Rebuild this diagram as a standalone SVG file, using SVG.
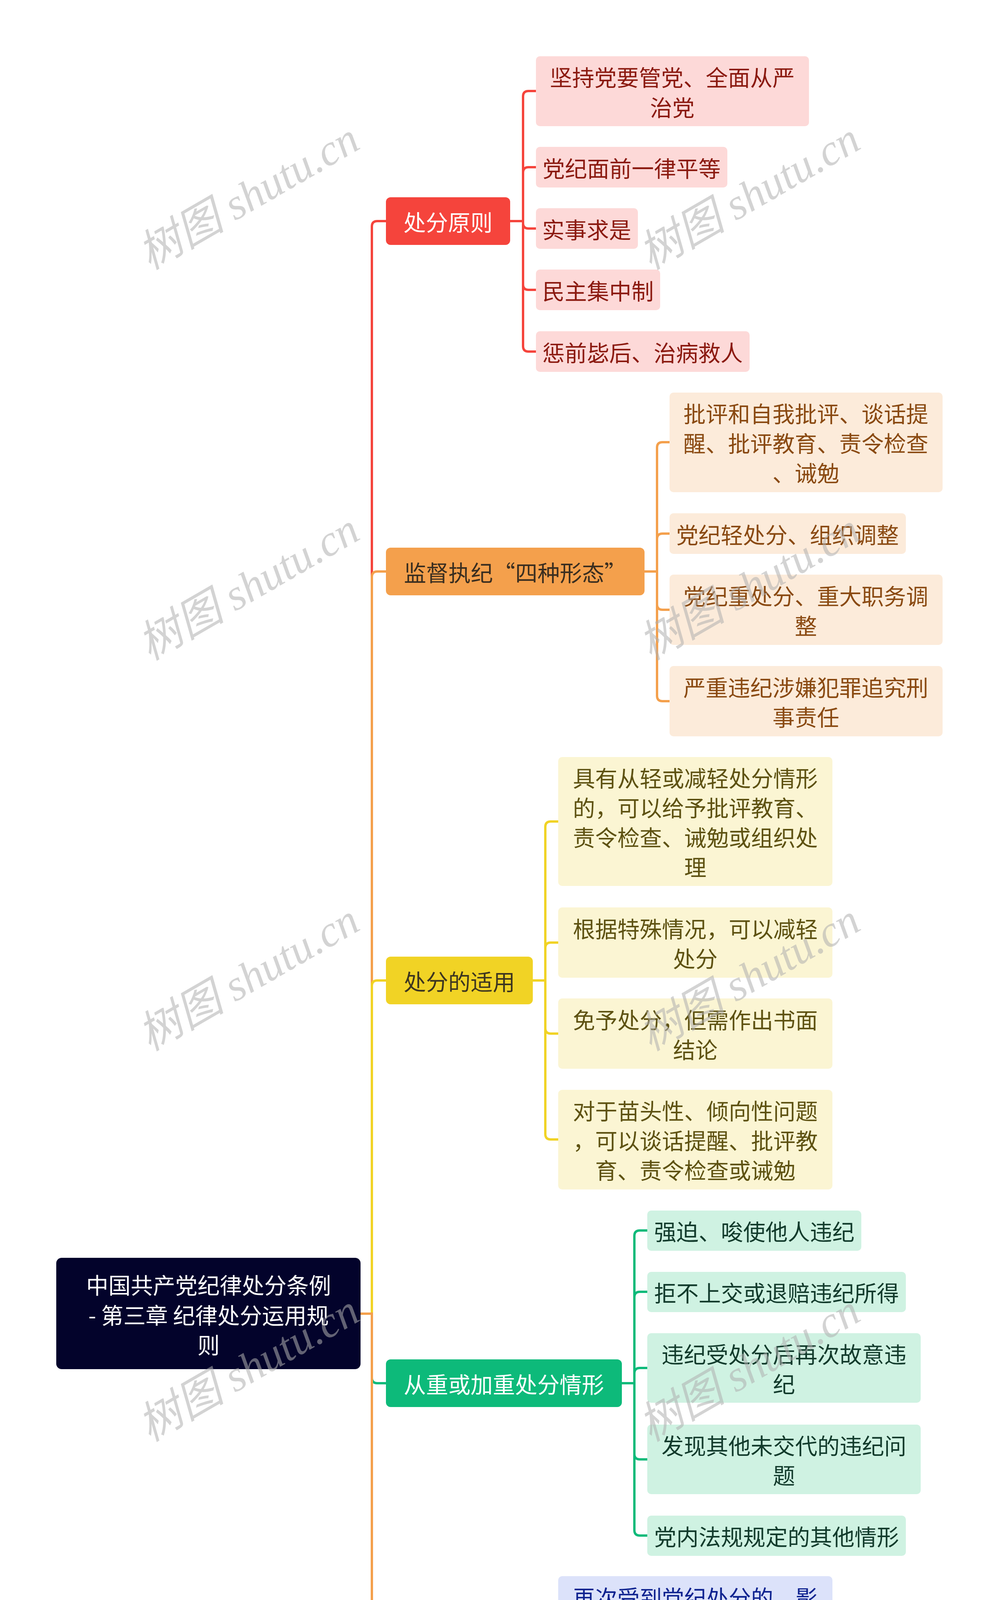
<svg xmlns="http://www.w3.org/2000/svg" width="2560" height="6529" viewBox="0 0 2560 6529">
<style>
text{font-family:"Noto Sans CJK SC","Noto Sans",sans-serif;font-size:57px;text-anchor:middle;dominant-baseline:central}
.c{fill:none;stroke-width:6;stroke-linecap:round}
.wm{font-family:"Liberation Serif","Noto Sans CJK SC",serif;font-style:italic;font-size:112px;fill:#b0b0b0;opacity:0.55;dominant-baseline:alphabetic}
.r1{fill:#F5443C}.r1t{fill:#ffffff}
.o1{fill:#F4A04C}.o1t{fill:#3a2e20}
.y1{fill:#F1D325}.y1t{fill:#3d3620}
.g1{fill:#0DBA7A}.b1{fill:#4A6CF7}.i1{fill:#4E4ABE}
.w{fill:#ffffff}
.rl{fill:#FDD9D8}.rlt{fill:#8B1A10}
.ol{fill:#FCEBDA}.olt{fill:#8A4A12}
.yl{fill:#FBF5D3}.ylt{fill:#5E5212}
.gl{fill:#CFF2E2}.glt{fill:#123B2C}
.bl{fill:#DCE2FA}.blt{fill:#0F2390}
.il{fill:#DCDCF0}.ilt{fill:#25235E}
</style>
<rect width="2560" height="6529" fill="#ffffff"/>
<g id="connectors">
<path class="c" stroke="#F5443C" d="M923 3363 H952 V580 Q952 566 966 566 H988"/>
<path class="c" stroke="#F4A04C" d="M923 3363 H952 V1477 Q952 1463 966 1463 H988"/>
<path class="c" stroke="#F1D325" d="M923 3363 H952 V2524 Q952 2510 966 2510 H988"/>
<path class="c" stroke="#0DBA7A" d="M923 3363 H952 V3527 Q952 3541 966 3541 H988"/>
<path class="c" stroke="#4A6CF7" d="M923 3363 H952 V4149 Q952 4163 966 4163 H988"/>
<path class="c" stroke="#4E4ABE" d="M923 3363 H952 V4771 Q952 4785 966 4785 H988"/>
<path class="c" stroke="#F5443C" d="M923 3363 H952 V5546 Q952 5560 966 5560 H988"/>
<path class="c" stroke="#F4A04C" d="M923 3363 H952 V6146 Q952 6160 966 6160 H988"/>
<g stroke="#F5443C" class="c">
<path class="c" d="M1306 566 H1339 V247 Q1339 233 1353 233 H1372"/>
<path class="c" d="M1306 566 H1339 V442 Q1339 428 1353 428 H1372"/>
<path class="c" d="M1306 566 H1339 V571 Q1339 585 1353 585 H1372"/>
<path class="c" d="M1306 566 H1339 V728 Q1339 742 1353 742 H1372"/>
<path class="c" d="M1306 566 H1339 V886 Q1339 900 1353 900 H1372"/>
</g>
<g stroke="#F4A04C" class="c">
<path class="c" d="M1650 1463 H1682 V1146 Q1682 1132 1696 1132 H1714"/>
<path class="c" d="M1650 1463 H1682 V1380 Q1682 1366 1696 1366 H1714"/>
<path class="c" d="M1650 1463 H1682 V1547 Q1682 1561 1696 1561 H1714"/>
<path class="c" d="M1650 1463 H1682 V1781 Q1682 1795 1696 1795 H1714"/>
</g>
<g stroke="#F1D325" class="c">
<path class="c" d="M1364 2510 H1396 V2117 Q1396 2103 1410 2103 H1429"/>
<path class="c" d="M1364 2510 H1396 V2427 Q1396 2413 1410 2413 H1429"/>
<path class="c" d="M1364 2510 H1396 V2632 Q1396 2646 1410 2646 H1429"/>
<path class="c" d="M1364 2510 H1396 V2903 Q1396 2917 1410 2917 H1429"/>
</g>
<g stroke="#0DBA7A" class="c">
<path class="c" d="M1592 3541 H1624 V3164 Q1624 3150 1638 3150 H1657"/>
<path class="c" d="M1592 3541 H1624 V3321 Q1624 3307 1638 3307 H1657"/>
<path class="c" d="M1592 3541 H1624 V3516 Q1624 3502 1638 3502 H1657"/>
<path class="c" d="M1592 3541 H1624 V3722 Q1624 3736 1638 3736 H1657"/>
<path class="c" d="M1592 3541 H1624 V3917 Q1624 3931 1638 3931 H1657"/>
</g>
<path class="c" stroke="#4A6CF7" d="M1364 4163 H1429"/>
<g stroke="#4E4ABE" class="c">
<path class="c" d="M1306 4785 H1339 V4449 Q1339 4435 1353 4435 H1372"/>
<path class="c" d="M1306 4785 H1339 V4682 Q1339 4668 1353 4668 H1372"/>
<path class="c" d="M1306 4785 H1339 V4888 Q1339 4902 1353 4902 H1372"/>
<path class="c" d="M1306 4785 H1339 V5121 Q1339 5135 1353 5135 H1372"/>
</g>
<g stroke="#F5443C" class="c">
<path class="c" d="M1306 5560 H1339 V5419 Q1339 5405 1353 5405 H1372"/>
<path class="c" d="M1306 5560 H1339 V5701 Q1339 5715 1353 5715 H1372"/>
</g>
<g stroke="#F4A04C" class="c">
<path class="c" d="M1478 6160 H1510 V6038 Q1510 6024 1524 6024 H1543"/>
<path class="c" d="M1478 6160 H1510 V6281 Q1510 6295 1524 6295 H1543"/>
</g>
</g>
<g id="root">
<rect x="144" y="3220" width="779" height="285" rx="14" fill="#03032B"/>
<text class="w" x="534"><tspan x="534" y="3287">中国共产党纪律处分条例</tspan><tspan x="534" y="3364">- 第三章 纪律处分运用规</tspan><tspan x="534" y="3440">则</tspan></text>
</g>
<g id="n1">
<rect class="r1" x="988" y="505" width="318" height="122" rx="12"/>
<text class="r1t" x="1147" y="566">处分原则</text>
</g>
<g id="n1a"><rect class="rl" x="1372" y="144" width="699" height="179" rx="10"/><text class="rlt"><tspan x="1721" y="195">坚持党要管党、全面从严</tspan><tspan x="1721" y="272">治党</tspan></text></g>
<g id="n1b"><rect class="rl" x="1372" y="376" width="490" height="104" rx="10"/><text class="rlt" x="1617" y="428">党纪面前一律平等</text></g>
<g id="n1c"><rect class="rl" x="1372" y="533" width="261" height="104" rx="10"/><text class="rlt" x="1502" y="585">实事求是</text></g>
<g id="n1d"><rect class="rl" x="1372" y="690" width="318" height="104" rx="10"/><text class="rlt" x="1531" y="742">民主集中制</text></g>
<g id="n1e"><rect class="rl" x="1372" y="848" width="547" height="104" rx="10"/><text class="rlt" x="1645" y="900">惩前毖后、治病救人</text></g>
<g id="n2">
<rect class="o1" x="988" y="1402" width="662" height="122" rx="12"/>
<text class="o1t" x="1319" y="1463">监督执纪“四种形态”</text>
</g>
<g id="n2a"><rect class="ol" x="1714" y="1005" width="699" height="255" rx="10"/><text class="olt"><tspan x="2063" y="1056">批评和自我批评、谈话提</tspan><tspan x="2063" y="1132">醒、批评教育、责令检查</tspan><tspan x="2063" y="1208">、诫勉</tspan></text></g>
<g id="n2b"><rect class="ol" x="1714" y="1314" width="605" height="104" rx="10"/><text class="olt" x="2016" y="1366">党纪轻处分、组织调整</text></g>
<g id="n2c"><rect class="ol" x="1714" y="1471" width="699" height="180" rx="10"/><text class="olt"><tspan x="2063" y="1523">党纪重处分、重大职务调</tspan><tspan x="2063" y="1599">整</tspan></text></g>
<g id="n2d"><rect class="ol" x="1714" y="1705" width="699" height="180" rx="10"/><text class="olt"><tspan x="2063" y="1757">严重违纪涉嫌犯罪追究刑</tspan><tspan x="2063" y="1833">事责任</tspan></text></g>
<g id="n3">
<rect class="y1" x="988" y="2449" width="376" height="122" rx="12"/>
<text class="y1t" x="1176" y="2510">处分的适用</text>
</g>
<g id="n3a"><rect class="yl" x="1429" y="1938" width="702" height="330" rx="10"/><text class="ylt"><tspan x="1780" y="1989">具有从轻或减轻处分情形</tspan><tspan x="1780" y="2065">的，可以给予批评教育、</tspan><tspan x="1780" y="2141">责令检查、诫勉或组织处</tspan><tspan x="1780" y="2217">理</tspan></text></g>
<g id="n3b"><rect class="yl" x="1429" y="2323" width="702" height="180" rx="10"/><text class="ylt"><tspan x="1780" y="2375">根据特殊情况，可以减轻</tspan><tspan x="1780" y="2451">处分</tspan></text></g>
<g id="n3c"><rect class="yl" x="1429" y="2556" width="702" height="180" rx="10"/><text class="ylt"><tspan x="1780" y="2608">免予处分，但需作出书面</tspan><tspan x="1780" y="2684">结论</tspan></text></g>
<g id="n3d"><rect class="yl" x="1429" y="2790" width="702" height="255" rx="10"/><text class="ylt"><tspan x="1780" y="2841">对于苗头性、倾向性问题</tspan><tspan x="1780" y="2917">，可以谈话提醒、批评教</tspan><tspan x="1780" y="2993">育、责令检查或诫勉</tspan></text></g>
<g id="n4">
<rect class="g1" x="988" y="3480" width="604" height="122" rx="12"/>
<text class="w" x="1290" y="3541">从重或加重处分情形</text>
</g>
<g id="n4a"><rect class="gl" x="1657" y="3099" width="548" height="103" rx="10"/><text class="glt" x="1931" y="3150">强迫、唆使他人违纪</text></g>
<g id="n4b"><rect class="gl" x="1657" y="3256" width="662" height="103" rx="10"/><text class="glt" x="1988" y="3307">拒不上交或退赔违纪所得</text></g>
<g id="n4c"><rect class="gl" x="1657" y="3413" width="700" height="178" rx="10"/><text class="glt"><tspan x="2007" y="3464">违纪受处分后再次故意违</tspan><tspan x="2007" y="3540">纪</tspan></text></g>
<g id="n4d"><rect class="gl" x="1657" y="3647" width="700" height="178" rx="10"/><text class="glt"><tspan x="2007" y="3698">发现其他未交代的违纪问</tspan><tspan x="2007" y="3774">题</tspan></text></g>
<g id="n4e"><rect class="gl" x="1657" y="3880" width="662" height="103" rx="10"/><text class="glt" x="1988" y="3931">党内法规规定的其他情形</text></g>
<g id="n5">
<rect class="b1" x="988" y="4102" width="376" height="122" rx="12"/>
<text class="w" x="1176" y="4163">处分影响期</text>
</g>
<g id="n5a"><rect class="bl" x="1429" y="4035" width="702" height="256" rx="10"/><text class="blt"><tspan x="1780" y="4087">再次受到党纪处分的，影</tspan><tspan x="1780" y="4163">响期为原处分影响期与新</tspan><tspan x="1780" y="4239">处分影响期之和</tspan></text></g>
<g id="n6">
<rect class="i1" x="988" y="4724" width="318" height="122" rx="12"/>
<text class="w" x="1147" y="4785">处分幅度</text>
</g>
<g id="n6a"><rect class="il" x="1372" y="4345" width="702" height="180" rx="10"/><text class="ilt"><tspan x="1723" y="4397">从轻处分：在规定幅度内</tspan><tspan x="1723" y="4473">给予较轻处分</tspan></text></g>
<g id="n6b"><rect class="il" x="1372" y="4579" width="702" height="179" rx="10"/><text class="ilt"><tspan x="1723" y="4630">从重处分：在规定幅度内</tspan><tspan x="1723" y="4706">给予较重处分</tspan></text></g>
<g id="n6c"><rect class="il" x="1372" y="4812" width="702" height="179" rx="10"/><text class="ilt"><tspan x="1723" y="4864">减轻处分：在规定幅度外</tspan><tspan x="1723" y="4940">减轻一档给予处分</tspan></text></g>
<g id="n6d"><rect class="il" x="1372" y="5046" width="702" height="179" rx="10"/><text class="ilt"><tspan x="1723" y="5097">加重处分：在规定幅度外</tspan><tspan x="1723" y="5173">加重一档给予处分</tspan></text></g>
<g id="n7">
<rect class="r1" x="988" y="5499" width="318" height="122" rx="12"/>
<text class="w" x="1147" y="5560">合并处理</text>
</g>
<g id="n7a"><rect class="rl" x="1372" y="5278" width="702" height="255" rx="10"/><text class="rlt"><tspan x="1723" y="5329">两种以上违纪行为，合并</tspan><tspan x="1723" y="5405">处理，按最高处分加重一</tspan><tspan x="1723" y="5481">档</tspan></text></g>
<g id="n7b"><rect class="rl" x="1372" y="5587" width="702" height="256" rx="10"/><text class="rlt"><tspan x="1723" y="5639">一种违纪行为应受开除党</tspan><tspan x="1723" y="5715">籍处分的，给予开除党籍</tspan><tspan x="1723" y="5791">处分</tspan></text></g>
<g id="n8">
<rect class="o1" x="988" y="6099" width="490" height="122" rx="12"/>
<text class="o1t" x="1233" y="6160">处分条款的适用</text>
</g>
<g id="n8a"><rect class="ol" x="1543" y="5897" width="702" height="255" rx="10"/><text class="olt"><tspan x="1894" y="5948">同时触犯两个以上条款，</tspan><tspan x="1894" y="6024">依照处分较重的条款定性</tspan><tspan x="1894" y="6100">处理</tspan></text></g>
<g id="n8b"><rect class="ol" x="1543" y="6206" width="702" height="179" rx="10"/><text class="olt"><tspan x="1894" y="6257">特别规定与一般规定不一</tspan><tspan x="1894" y="6333">致时，适用特别规定</tspan></text></g>
<g id="watermarks">
<text class="wm" transform="translate(655 535) rotate(-30)">树图 shutu.cn</text>
<text class="wm" transform="translate(1937 535) rotate(-30)">树图 shutu.cn</text>
<text class="wm" transform="translate(655 1535) rotate(-30)">树图 shutu.cn</text>
<text class="wm" transform="translate(1937 1535) rotate(-30)">树图 shutu.cn</text>
<text class="wm" transform="translate(655 2535) rotate(-30)">树图 shutu.cn</text>
<text class="wm" transform="translate(1937 2535) rotate(-30)">树图 shutu.cn</text>
<text class="wm" transform="translate(655 3535) rotate(-30)">树图 shutu.cn</text>
<text class="wm" transform="translate(1937 3535) rotate(-30)">树图 shutu.cn</text>
<text class="wm" transform="translate(655 4535) rotate(-30)">树图 shutu.cn</text>
<text class="wm" transform="translate(1937 4535) rotate(-30)">树图 shutu.cn</text>
<text class="wm" transform="translate(655 5535) rotate(-30)">树图 shutu.cn</text>
<text class="wm" transform="translate(1937 5535) rotate(-30)">树图 shutu.cn</text>
<text class="wm" transform="translate(655 6535) rotate(-30)">树图 shutu.cn</text>
<text class="wm" transform="translate(1937 6535) rotate(-30)">树图 shutu.cn</text>
</g>
</svg>
